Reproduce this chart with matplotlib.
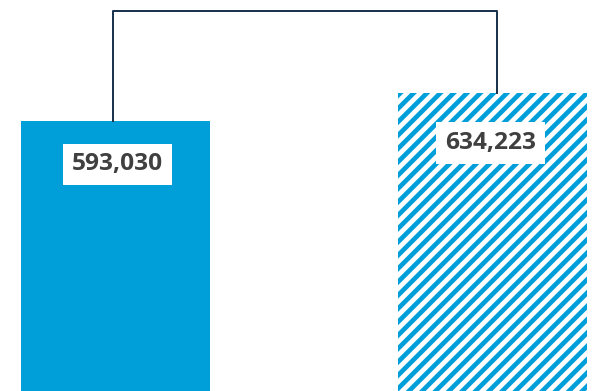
import matplotlib
matplotlib.use("Agg")
import matplotlib.pyplot as plt

# --- data -------------------------------------------------------------
categories = ["Before", "After"]
values = [593030, 634223]
value_labels = ["593,030", "634,223"]

# --- style ------------------------------------------------------------
BLUE = "#009FDA"
NAVY = "#1B3550"
TEXT = "#404040"

plt.rcParams["hatch.linewidth"] = 4.2

DPI = 80
fig = plt.figure(figsize=(598 / DPI, 391 / DPI), dpi=DPI)
ax = fig.add_axes([0, 0, 1, 1])

x = [0, 1]
bars = ax.bar(x, values, width=0.501, color=[BLUE, "white"],
              edgecolor=[BLUE, BLUE], linewidth=0)
bars[1].set_hatch("//")

# bracket joining the two bars
top = max(values) * 1.19
ax.plot([x[0] - 0.006, x[0] - 0.006, x[1] + 0.011, x[1] + 0.011],
        [values[0], top, top, values[1]],
        color=NAVY, lw=1.8, solid_joinstyle="round", zorder=3)

# value labels in white boxes
offsets = [(2, -39), (-2, -45)]
for xi, v, lab, off in zip(x, values, value_labels, offsets):
    ax.annotate(lab, (xi, v), xytext=off, textcoords="offset points",
                ha="center", va="center", fontsize=22, fontweight="bold",
                family=["Open Sans", "DejaVu Sans"], color=TEXT,
                bbox=dict(boxstyle="square,pad=0.36", fc="white", ec="none"))

# axis window (bars are cropped at the bottom, as in the source)
ax.set_xlim(-0.3064, 1.2798)
ax.set_ylim(195805, 771044)
ax.axis("off")

fig.savefig("out.png", dpi=DPI, facecolor="white")
